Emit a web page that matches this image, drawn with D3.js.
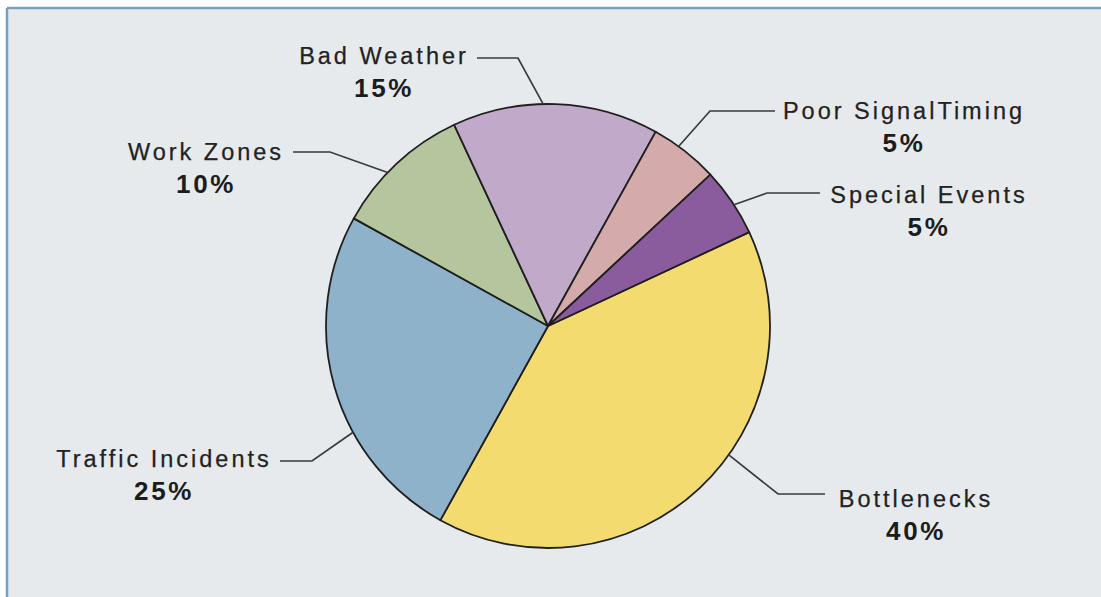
<!DOCTYPE html>
<html>
<head>
<meta charset="utf-8">
<script src="https://cdn.jsdelivr.net/npm/d3@7"></script>
<style>
  body { margin: 0; background: #ffffff; }
  .name { font-family: "Liberation Sans", Arial, sans-serif; font-size: 23.5px; letter-spacing: 3px; fill: #222222; stroke: #222222; stroke-width: 0.25px; }
  .pct  { font-family: "Liberation Sans", Arial, sans-serif; font-size: 26px; font-weight: bold; letter-spacing: 2.6px; fill: #1c1c1c; }
</style>
</head>
<body>
<div id="pieDiv"></div>
<script>
// Causes of congestion (share in %)
const categories = ["Bottlenecks", "Traffic Incidents", "Work Zones", "Bad Weather", "Poor SignalTiming", "Special Events"];
const values = [40, 25, 10, 15, 5, 5];
const colors = ["#f3db6f", "#8eb2c9", "#b5c69f", "#c1a9ca", "#d4aaaa", "#8a5c9d"];

// Label layout: text centre/baseline, elbow of the leader line, where along the slice it touches
const labelX = [916, 164, 206, 384, 904, 929];
const labelY = [507, 467, 160, 64, 119, 203];
const elbowX = [778, 312, 330, 518, 710, 767];
const elbowY = [494, 461, 152, 58, 111, 193];
const lineEndX = [825, 280, 293, 477, 775, 820];
const touchFrac = [0.42, 0.36, 0.41, 0.44, 0.39, 0.55];

const width = 1101, height = 597;
const cx = 548, cy = 326, radius = 222;

let svg = d3.select("#pieDiv")
     .append("svg")
     .attr("width", width)
     .attr("height", height);

// panel background with blue rule on top and left
svg.append("rect")
     .attr("x", 7).attr("y", 8)
     .attr("width", width - 7).attr("height", height - 8)
     .attr("fill", "#e6eaed");
svg.append("line")
     .attr("x1", 7).attr("y1", 8).attr("x2", width).attr("y2", 8)
     .attr("stroke", "#77a0bd").attr("stroke-width", 2.5);
svg.append("line")
     .attr("x1", 7).attr("y1", 8).attr("x2", 7).attr("y2", height)
     .attr("stroke", "#77a0bd").attr("stroke-width", 2.5);

let start = 65 * Math.PI / 180;
let pie = d3.pie()
     .sort(null)
     .startAngle(start)
     .endAngle(start + 2 * Math.PI);

let arcs = pie(values);
let arc = d3.arc().innerRadius(0).outerRadius(radius);

let g = svg.append("g")
     .attr("transform", "translate(" + cx + "," + cy + ")");

g.selectAll("path")
     .data(arcs)
     .enter()
     .append("path")
       .attr("d", arc)
       .attr("fill", function(d, i) { return colors[i]; })
       .attr("stroke", "#1f1f1f")
       .attr("stroke-width", 1.8)
       .attr("stroke-linejoin", "round");

// leader lines
arcs.forEach(function(d, i) {
     let a = d.startAngle + (d.endAngle - d.startAngle) * touchFrac[i];
     let px = cx + radius * Math.sin(a);
     let py = cy - radius * Math.cos(a);
     svg.append("polyline")
          .attr("points", [[px, py], [elbowX[i], elbowY[i]], [lineEndX[i], elbowY[i]]].join(" "))
          .attr("fill", "none")
          .attr("stroke", "#3a3a3a")
          .attr("stroke-width", 1.7);
});

// labels
categories.forEach(function(c, i) {
     svg.append("text")
          .attr("class", "name")
          .attr("text-anchor", "middle")
          .attr("x", labelX[i])
          .attr("y", labelY[i])
          .text(c);
     svg.append("text")
          .attr("class", "pct")
          .attr("text-anchor", "middle")
          .attr("x", labelX[i])
          .attr("y", labelY[i] + 33)
          .text(values[i] + "%");
});
</script>
</body>
</html>
